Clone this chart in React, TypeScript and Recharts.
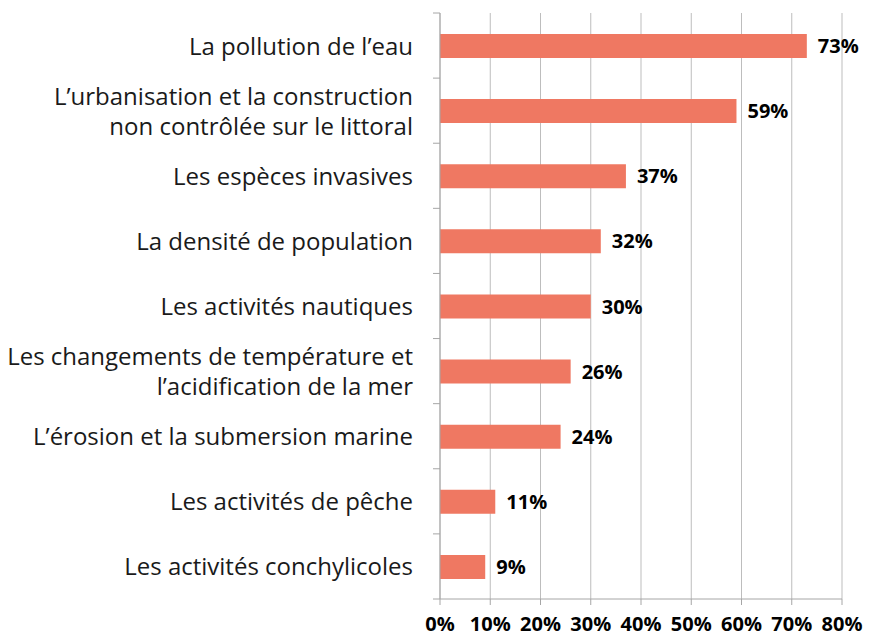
import { BarChart, Bar, XAxis, YAxis, CartesianGrid, LabelList } from 'recharts';

const categories = [
  'La pollution de l\u2019eau',
  'L\u2019urbanisation et la construction\nnon contr\u00f4l\u00e9e sur le littoral',
  'Les esp\u00e8ces invasives',
  'La densit\u00e9 de population',
  'Les activit\u00e9s nautiques',
  'Les changements de temp\u00e9rature et\nl\u2019acidification de la mer',
  'L\u2019\u00e9rosion et la submersion marine',
  'Les activit\u00e9s de p\u00eache',
  'Les activit\u00e9s conchylicoles',
];
const values = [73, 59, 37, 32, 30, 26, 24, 11, 9];
const xTicks = [0, 10, 20, 30, 40, 50, 60, 70, 80];

const data = categories.map((name, i) => ({ name, value: values[i] }));

const W = 876;
const H = 638;
const MARGIN = { top: 13, right: 34, bottom: 0, left: 0 };
const X_AXIS_H = 39;
const BAND = (H - MARGIN.top - X_AXIS_H) / categories.length;
const FONT = '"Open Sans", sans-serif';
const AXIS_GREY = '#a6a6a6';

const CategoryTick = ({ x, y, payload, index }: any) => {
  const lines = String(payload.value).split('\n');
  const lh = 30;
  const first = -((lines.length - 1) * lh) / 2;
  const axisX = x + 27;
  return (
    <g>
      <line x1={axisX - 7} x2={axisX} y1={y - BAND / 2} y2={y - BAND / 2} stroke={AXIS_GREY} />
      {index === categories.length - 1 && (
        <line x1={axisX - 7} x2={axisX} y1={y + BAND / 2} y2={y + BAND / 2} stroke={AXIS_GREY} />
      )}
      <text x={x} y={y} textAnchor="end" fill="#1a1a1a" fontSize={24} fontFamily={FONT}>
        {lines.map((l, i) => (
          <tspan key={i} x={x} dy={i === 0 ? first + 9 : lh}>{l}</tspan>
        ))}
      </text>
    </g>
  );
};

export default function App() {
  return (
    <div style={{ position: 'absolute', left: 0, top: 0, width: W, height: H, background: '#fff' }}>
      <BarChart width={W} height={H} data={data} layout="vertical" margin={MARGIN} barSize={24}>
        <CartesianGrid vertical horizontal={false} stroke="#bdbdbd" />
        <XAxis
          type="number"
          domain={[0, 80]}
          ticks={xTicks}
          interval={0}
          tickFormatter={(v) => `${v}%`}
          height={X_AXIS_H}
          stroke={AXIS_GREY}
          tickSize={6}
          tickMargin={12}
          tick={{ fill: '#000', fontSize: 20, fontWeight: 700, fontFamily: FONT }}
        />
        <YAxis
          type="category"
          dataKey="name"
          width={440}
          stroke={AXIS_GREY}
          tickLine={false}
          tickSize={6}
          tickMargin={21}
          interval={0}
          tick={<CategoryTick />}
        />
        <Bar dataKey="value" fill="#ef7862" isAnimationActive={false}>
          <LabelList
            dataKey="value"
            position="right"
            offset={11}
            formatter={(v: any) => `${v}%`}
            fill="#000"
            fontSize={20}
            fontWeight={700}
            fontFamily={FONT}
          />
        </Bar>
      </BarChart>
    </div>
  );
}
